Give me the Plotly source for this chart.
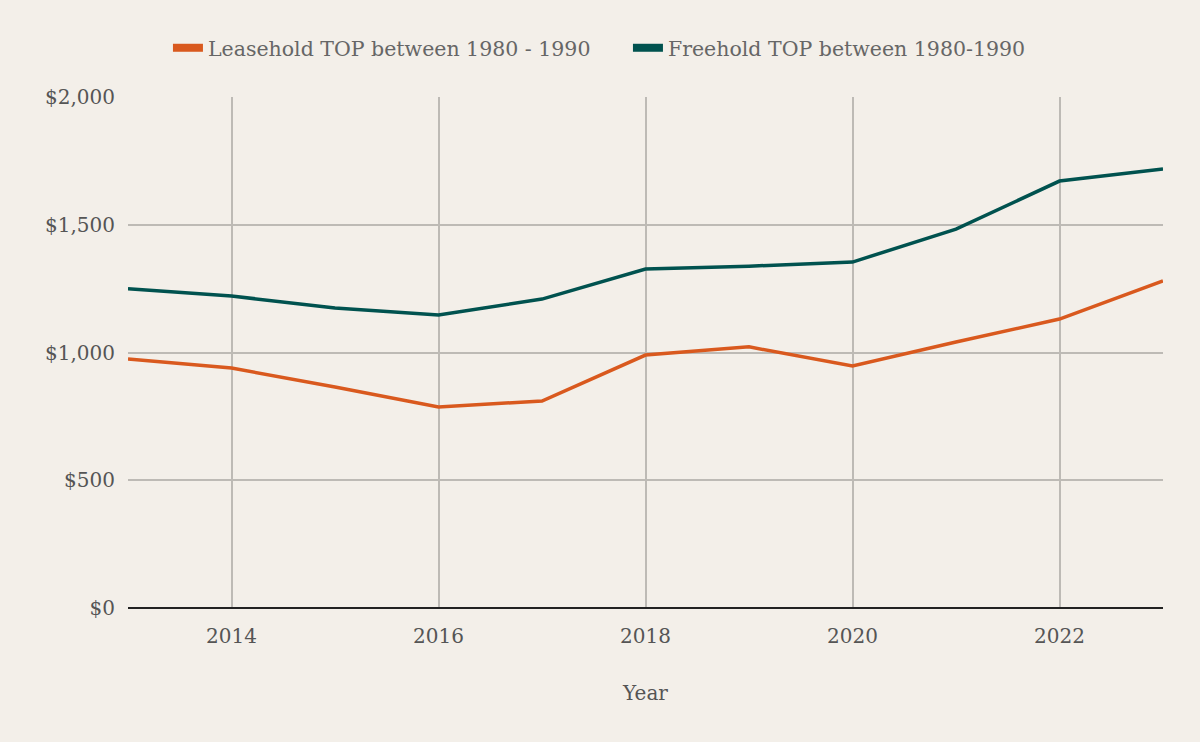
import plotly.graph_objects as go

years = [2013, 2014, 2015, 2016, 2017, 2018, 2019, 2020, 2021, 2022, 2023]
leasehold = [975, 939, 865, 787, 810, 990, 1022, 947, 1041, 1131, 1280]
freehold = [1250, 1221, 1174, 1147, 1209, 1327, 1338, 1354, 1483, 1671, 1718]
series_names = ["Leasehold TOP between 1980 - 1990", "Freehold TOP between 1980-1990"]
series_colors = ["#d9591e", "#00524f"]
y_ticks = [0, 500, 1000, 1500, 2000]
y_tick_labels = ["$0", "$500", "$1,000", "$1,500", "$2,000"]
x_ticks = [2014, 2016, 2018, 2020, 2022]

FONT = "DejaVu Serif"
fig = go.Figure()
for name, vals, col in zip(series_names, [leasehold, freehold], series_colors):
    fig.add_trace(go.Scatter(x=years, y=vals, mode="lines", name=name, legendgroup=name,
                             showlegend=False, line=dict(color=col, width=3.5)))
    # legend key drawn as a thick short bar
    fig.add_trace(go.Scatter(x=[None], y=[None], mode="lines", name=name, legendgroup=name,
                             showlegend=True, line=dict(color=col, width=8)))

fig.update_layout(
    width=1200, height=742,
    paper_bgcolor="#f3efe9", plot_bgcolor="#f3efe9",
    margin=dict(l=128, r=37, t=97, b=134),
    font=dict(family=FONT, size=20, color="#666666"),
    showlegend=True,
    legend=dict(orientation="h", x=0.0386, xanchor="left", y=1.096, yanchor="middle",
                font=dict(size=20.5, color="#666666"), itemwidth=30, entrywidth=415,
                entrywidthmode="pixels", bgcolor="rgba(0,0,0,0)"),
    xaxis=dict(range=[2013, 2023], tickvals=x_ticks, showgrid=True, gridcolor="#bdbab5",
               gridwidth=2, zeroline=False, showline=False, ticks="", ticklabelstandoff=14,
               tickfont=dict(size=20, color="#555555"),
               title=dict(text="Year", font=dict(size=20, color="#555555"), standoff=38)),
    yaxis=dict(range=[0, 2000], tickvals=y_ticks, ticktext=y_tick_labels, showgrid=True,
               gridcolor="#bdbab5", gridwidth=2, zeroline=True, zerolinecolor="#222222",
               zerolinewidth=2, showline=False, ticks="", ticklabelstandoff=12,
               tickfont=dict(size=20, color="#555555")),
)
fig.write_html("out.html")
